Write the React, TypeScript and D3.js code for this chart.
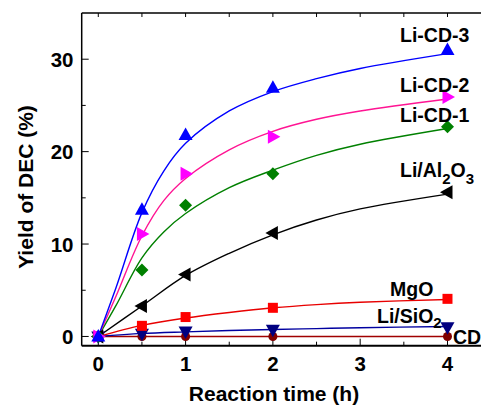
import React from 'react';
import * as d3 from 'd3';

// --- DATA ---
const times = [0, 0.5, 1, 2, 4];
const liCD3 = [0, 13.7, 21.8, 26.9, 31.0];
const liCD2 = [0, 11.1, 17.6, 21.6, 25.9];
const liCD1 = [0, 7.2, 14.2, 17.6, 22.7];
const liAl2O3 = [0, 3.3, 6.7, 11.2, 15.6];
const mgO = [0, 1.15, 2.1, 3.1, 4.07];
const liSiO2 = [0, 0.3, 0.55, 0.72, 1.0];
const cd = [0, 0, 0, 0, 0];

// fitted curves
const fitTimesA = [0, 0.2, 0.5, 0.75, 1, 1.5, 2, 2.5, 3, 4];
const fitLiCD3 = [0, 5.2, 13.4, 17.9, 20.9, 24.4, 26.5, 27.9, 29.0, 30.6];
const fitLiCD2 = [0, 4.3, 10.9, 14.7, 17.1, 20.2, 22.2, 23.5, 24.4, 25.7];
const fitLiCD1 = [0, 3.3, 8.5, 11.3, 13.3, 16.1, 18.0, 19.6, 20.8, 22.5];
const fitTimesB = [0, 0.5, 1, 1.5, 2, 2.5, 3, 4];
const fitLiAl2O3 = [0, 3.3, 6.6, 9.0, 11.0, 12.6, 13.8, 15.4];
const fitMgO = [0, 1.2, 2.0, 2.6, 3.1, 3.45, 3.7, 4.0];
const fitLiSiO2 = [0, 0.33, 0.5, 0.64, 0.75, 0.85, 0.95, 1.08];
const fitCD = [0, 0, 0, 0, 0, 0, 0, 0];

const xTicks = [0, 1, 2, 3, 4];
const yTicks = [0, 10, 20, 30];

type Marker = 'up' | 'right' | 'left' | 'down' | 'square' | 'diamond' | 'circle';

interface Series {
  id: string;
  values: number[];
  fitT: number[];
  fit: number[];
  marker: Marker;
  fill: string;
  line: string;
}

const series: Series[] = [
  { id: 'CD', values: cd, fitT: fitTimesB, fit: fitCD, marker: 'circle', fill: '#800000', line: '#a00000' },
  { id: 'Li/SiO2', values: liSiO2, fitT: fitTimesB, fit: fitLiSiO2, marker: 'down', fill: '#000080', line: '#0000a0' },
  { id: 'MgO', values: mgO, fitT: fitTimesB, fit: fitMgO, marker: 'square', fill: '#ff0000', line: '#e80000' },
  { id: 'Li/Al2O3', values: liAl2O3, fitT: fitTimesB, fit: fitLiAl2O3, marker: 'left', fill: '#000000', line: '#000000' },
  { id: 'Li-CD-1', values: liCD1, fitT: fitTimesA, fit: fitLiCD1, marker: 'diamond', fill: '#008000', line: '#008000' },
  { id: 'Li-CD-2', values: liCD2, fitT: fitTimesA, fit: fitLiCD2, marker: 'right', fill: '#ff00ff', line: '#ff1493' },
  { id: 'Li-CD-3', values: liCD3, fitT: fitTimesA, fit: fitLiCD3, marker: 'up', fill: '#0000ff', line: '#0000ff' },
];

const W = 481;
const H = 406;
const left = 81.7;
const top = 13;
const bottom = 345.7;

function markerPath(m: Marker): string {
  switch (m) {
    case 'up': return 'M0,-7.5L7,5L-7,5Z';
    case 'down': return 'M0,7.5L7,-5L-7,-5Z';
    case 'right': return 'M7.5,0L-5,-7L-5,7Z';
    case 'left': return 'M-7.5,0L5,-7L5,7Z';
    case 'square': return 'M-5,-5L5,-5L5,5L-5,5Z';
    case 'diamond': return 'M0,-6.5L6.5,0L0,6.5L-6.5,0Z';
    default: return d3.symbol(d3.symbolCircle, 64)() || '';
  }
}

const font = 'Arial, "Liberation Sans", sans-serif';

export default function App() {
  const x = d3.scaleLinear().domain([-0.19, 4.4]).range([left, left + 4.59 * 87.3]);
  const y = d3.scaleLinear().domain([-1, 35]).range([bottom, top]);

  const line = d3.line<[number, number]>()
    .x(d => x(d[0]))
    .y(d => y(d[1]))
    .curve(d3.curveCatmullRom.alpha(0.5));

  const minorX = d3.range(0, 4.5, 0.5);
  const minorY = d3.range(0, 35, 5);

  return (
    <svg width={W} height={H} style={{ position: 'absolute', left: 0, top: 0, background: '#fff' }} fontFamily={font}>
      {/* frame */}
      <line x1={left} x2={W} y1={top} y2={top} stroke="#000" strokeWidth={1.5} />
      <line x1={left} x2={left} y1={top} y2={bottom} stroke="#000" strokeWidth={1.5} />
      <line x1={left} x2={W} y1={bottom} y2={bottom} stroke="#000" strokeWidth={2} />

      {/* x ticks */}
      {minorX.map(t => {
        const major = Number.isInteger(t);
        return (
          <g key={`xt${t}`}>
            <line x1={x(t)} x2={x(t)} y1={bottom} y2={bottom - (major ? 7 : 4)} stroke="#000" strokeWidth={1} />
            <line x1={x(t)} x2={x(t)} y1={top} y2={top + 4} stroke="#000" strokeWidth={1} />
          </g>
        );
      })}
      {xTicks.map(t => (
        <text key={`xl${t}`} x={x(t)} y={370.5} textAnchor="middle" fontSize={20.5} fontWeight="bold">{t}</text>
      ))}

      {/* y ticks */}
      {minorY.map(v => {
        const major = v % 10 === 0;
        return <line key={`yt${v}`} x1={left} x2={left + (major ? 7 : 4)} y1={y(v)} y2={y(v)} stroke="#000" strokeWidth={1} />;
      })}
      {yTicks.map(v => (
        <text key={`yl${v}`} x={73.5} y={y(v) + 7.5} textAnchor="end" fontSize={20.5} fontWeight="bold">{v}</text>
      ))}

      {/* axis titles */}
      <text x={274} y={401} textAnchor="middle" fontSize={21} fontWeight="bold">Reaction time (h)</text>
      <text transform="translate(33,187) rotate(-90)" textAnchor="middle" fontSize={21} fontWeight="bold">Yield of DEC (%)</text>

      {/* fitted curves */}
      {series.map(s => (
        <path key={`c${s.id}`} d={line(s.fitT.map((t, i) => [t, s.fit[i]] as [number, number])) || ''}
          fill="none" stroke={s.line} strokeWidth={1.4} />
      ))}

      {/* markers */}
      {series.map(s => (
        <g key={`m${s.id}`}>
          {times.map((t, i) => (
            <path key={i} d={markerPath(s.marker)} transform={`translate(${x(t)},${y(s.values[i])})`} fill={s.fill} />
          ))}
        </g>
      ))}

      {/* series labels */}
      <g fontSize={19.5} fontWeight="bold">
        <text x={400} y={41.5}>Li-CD-3</text>
        <text x={400} y={91.5}>Li-CD-2</text>
        <text x={400} y={121.5}>Li-CD-1</text>
        <text x={400} y={177}>Li/Al<tspan dy={7} fontSize={15}>2</tspan><tspan dy={-7}>O</tspan><tspan dy={7} fontSize={15}>3</tspan></text>
        <text x={390} y={296}>MgO</text>
        <text x={377} y={323}>Li/SiO<tspan dy={5} fontSize={15}>2</tspan></text>
        <text x={453} y={344}>CD</text>
      </g>
    </svg>
  );
}
